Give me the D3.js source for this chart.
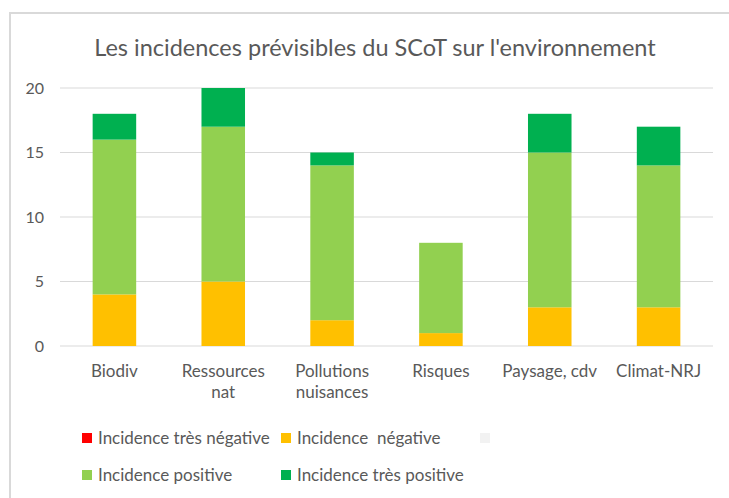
<!DOCTYPE html>
<html>
<head>
<meta charset="utf-8">
<script src="https://cdn.jsdelivr.net/npm/d3@7"></script>
<style>
  html, body { margin: 0; padding: 0; background: #fff; }
  svg { display: block; font-family: Lato, "Open Sans", sans-serif; }
  text { white-space: pre; }
</style>
</head>
<body>
<svg id="chart" width="729" height="498"></svg>
<script>
// Impacts du SCoT par thématique (nombre d'incidences)
const categories = ["Biodiv", "Ressources\nnat", "Pollutions\nnuisances", "Risques", "Paysage, cdv", "Climat-NRJ"];
const tresNegative = [0, 0, 0, 0, 0, 0];
const negative     = [4, 5, 2, 1, 3, 3];
const neutre       = [0, 0, 0, 0, 0, 0];
const positive     = [12, 12, 12, 7, 12, 11];
const tresPositive = [2, 3, 1, 0, 3, 3];
const yTicks = [0, 5, 10, 15, 20];

const seriesNames  = ["Incidence très négative", "Incidence  négative", "", "Incidence positive", "Incidence très positive"];
const seriesValues = [tresNegative, negative, neutre, positive, tresPositive];
const seriesColors = ["#ff0000", "#ffc000", "#f2f2f2", "#92d050", "#00b050"];

const svg = d3.select("#chart");
const W = 729, H = 498;
const margin = { left: 60, right: 16, top: 88, bottom: 152 };

// cadre
svg.append("rect")
  .attr("x", 10).attr("y", 13).attr("width", W + 20).attr("height", H)
  .attr("fill", "#fff").attr("stroke", "#d9d9d9").attr("stroke-width", 2);

svg.append("text")
  .attr("x", 375).attr("y", 56)
  .attr("text-anchor", "middle")
  .attr("font-size", 23.5)
  .attr("fill", "#595959")
  .text("Les incidences prévisibles du SCoT sur l'environnement");

const x = d3.scaleBand()
  .domain(categories)
  .range([margin.left, W - margin.right])
  .paddingInner(0.6).paddingOuter(0.3);

const y = d3.scaleLinear().domain([0, 20]).range([346, 88]);

// grille
svg.append("g").selectAll("line").data(yTicks).join("line")
  .attr("x1", margin.left).attr("x2", W - margin.right)
  .attr("y1", d => y(d)).attr("y2", d => y(d))
  .attr("stroke", "#d9d9d9").attr("stroke-width", 1);

const yAxis = svg.append("g")
  .attr("transform", `translate(${margin.left},0)`)
  .call(d3.axisLeft(y).tickValues(yTicks).tickSize(0).tickPadding(16));
yAxis.select(".domain").remove();
yAxis.selectAll("text").attr("font-size", 16).attr("fill", "#595959").attr("font-family", "Lato, sans-serif");

// empilement
const rows = categories.map((c, i) => {
  const r = { cat: c };
  seriesValues.forEach((s, k) => { r["s" + k] = s[i]; });
  return r;
});
const stack = d3.stack().keys(seriesValues.map((_, k) => "s" + k));
const stacked = stack(rows);

svg.append("g").selectAll("g").data(stacked).join("g")
  .attr("fill", (d, k) => seriesColors[k])
  .selectAll("rect").data(d => d).join("rect")
  .attr("x", d => x(d.data.cat))
  .attr("width", x.bandwidth())
  .attr("y", d => y(d[1]))
  .attr("height", d => y(d[0]) - y(d[1]));

// étiquettes de catégories
const xl = svg.append("g").selectAll("text").data(categories).join("text")
  .attr("x", d => x(d) + x.bandwidth() / 2)
  .attr("y", 377)
  .attr("text-anchor", "middle")
  .attr("font-size", 17)
  .attr("fill", "#595959");
xl.selectAll("tspan").data(d => d.split("\n")).join("tspan")
  .attr("x", function () { return d3.select(this.parentNode).attr("x"); })
  .attr("dy", (d, i) => i === 0 ? 0 : 21)
  .text(d => d);

// légende
const legendPos = [[82, 444], [281, 444], [480, 444], [82, 481], [281, 481]];
const lg = svg.append("g").selectAll("g").data(seriesNames).join("g")
  .attr("transform", (d, k) => `translate(${legendPos[k][0]},${legendPos[k][1]})`);
lg.append("rect").attr("x", 0).attr("y", -11).attr("width", 10).attr("height", 10)
  .attr("fill", (d, k) => seriesColors[k]);
lg.append("text").attr("x", 16).attr("y", 0)
  .attr("font-size", 17).attr("fill", "#595959")
  .text(d => d);
</script>
</body>
</html>
